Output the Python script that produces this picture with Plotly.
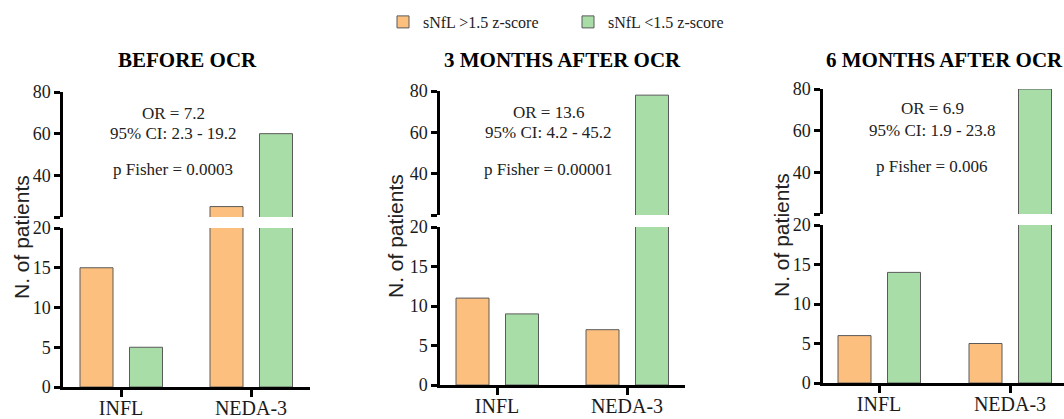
import plotly.graph_objects as go

# ---------------- data ----------------
categories = ["INFL", "NEDA-3"]
panel_titles = ["BEFORE OCR", "3 MONTHS AFTER OCR", "6 MONTHS AFTER OCR"]
series_names = ["sNfL >1.5 z-score", "sNfL <1.5 z-score"]
high_nfl = [[15, 25], [11, 7], [6, 5]]      # sNfL >1.5 z-score
low_nfl = [[5, 60], [9, 78], [14, 80]]      # sNfL <1.5 z-score
stats_or = ["OR = 7.2", "OR = 13.6", "OR = 6.9"]
stats_ci = ["95% CI: 2.3 - 19.2", "95% CI: 4.2 - 45.2", "95% CI: 1.9 - 23.8"]
stats_p = ["p Fisher = 0.0003", "p Fisher = 0.00001", "p Fisher = 0.006"]
lower_ticks = [0, 5, 10, 15, 20]
upper_ticks = [20, 40, 60, 80]
upper_ticktext = ["", "40", "60", "80"]

# ---------------- style / layout ----------------
W, H = 1064, 419
ORANGE = "#FDBF7E"
GREEN = "#A8DDA8"
EDGE = "#5a5a5a"
SERIF = "Liberation Serif"
SANS = "Liberation Sans"

# pixel geometry per panel
geom = [
    dict(x0=63, x1=310, c0=121, c1=251, lo=(387, 228), up=(217, 92), title_x=187, stat_x=173, stat_y=(113, 133, 169), ylab_x=21, ylab_y=237),
    dict(x0=440, x1=685, c0=497, c1=627, lo=(385, 227), up=(215, 91), title_x=562, stat_x=548, stat_y=(112, 132, 169), ylab_x=396, ylab_y=236),
    dict(x0=823, x1=1064, c0=879, c1=1010, lo=(383, 225), up=(214, 89), title_x=944, stat_x=932, stat_y=(109, 130, 167), ylab_x=781, ylab_y=235),
]

def px_x(p):
    return p / W

def px_y(p):
    return (H - p) / H

fig = go.Figure()
annotations = []
axes = {}

axis_line = dict(showline=True, linecolor="black", linewidth=2.5, ticks="outside",
                 tickcolor="black", tickwidth=2.5, showgrid=False, zeroline=False,
                 automargin=False)

def aid(n, letter):
    return letter if n == 1 else f"{letter}{n}"

for i, g in enumerate(geom):
    unit = (g["c1"] - g["c0"])  # px per category
    xr = [(g["x0"] - g["c0"]) / unit, (g["x1"] - g["c0"]) / unit]
    bar_w = 33 / unit
    off_o = -41 / unit
    off_g = 8.5 / unit

    n_lo, n_up = 2 * i + 1, 2 * i + 2
    xa_lo, xa_up = aid(n_lo, "x"), aid(n_up, "x")
    ya_lo, ya_up = aid(n_lo, "y"), aid(n_up, "y")

    for xa, ya in [(xa_lo, ya_lo), (xa_up, ya_up)]:
        fig.add_trace(go.Bar(
            x=categories, y=high_nfl[i], name=series_names[0],
            marker=dict(color=ORANGE, line=dict(color=EDGE, width=1)),
            width=bar_w, offset=off_o, xaxis=xa, yaxis=ya,
            showlegend=(i == 0 and ya == ya_lo), legendgroup="hi"))
        fig.add_trace(go.Bar(
            x=categories, y=low_nfl[i], name=series_names[1],
            marker=dict(color=GREEN, line=dict(color=EDGE, width=1)),
            width=bar_w, offset=off_g, xaxis=xa, yaxis=ya,
            showlegend=(i == 0 and ya == ya_lo), legendgroup="lo"))

    dom_x = [px_x(g["x0"]), min(1.0, px_x(g["x1"]))]
    axes[f"xaxis{n_lo}"] = dict(domain=dom_x, range=xr, anchor=ya_lo, type="category",
                               tickfont=dict(family=SERIF, size=20, color="#1a1a1a"),
                               ticklen=7, ticklabelstandoff=-6, **axis_line)
    axes[f"xaxis{n_up}"] = dict(domain=dom_x, range=xr, anchor=ya_up, type="category",
                               matches=xa_lo, visible=False, automargin=False)
    axes[f"yaxis{n_lo}"] = dict(domain=[px_y(g["lo"][0]), px_y(g["lo"][1])], range=[0, 20],
                               anchor=xa_lo, tickvals=lower_ticks, ticklen=6,
                               tickfont=dict(family=SERIF, size=18, color="#1a1a1a"), **axis_line)
    axes[f"yaxis{n_up}"] = dict(domain=[px_y(g["up"][0]), px_y(g["up"][1])], range=[20, 80],
                               anchor=xa_up, tickvals=upper_ticks, ticktext=upper_ticktext, ticklen=6,
                               tickfont=dict(family=SERIF, size=18, color="#1a1a1a"), **axis_line)

    annotations.append(dict(
        text=f"<b>{panel_titles[i]}</b>", x=px_x(g["title_x"]), y=px_y(60),
        xref="paper", yref="paper", xanchor="center", yanchor="middle", showarrow=False,
        font=dict(family=SERIF, size=21, color="black")))
    for txt, yy in zip([stats_or[i], stats_ci[i], stats_p[i]], g["stat_y"]):
        annotations.append(dict(
            text=txt, x=px_x(g["stat_x"]), y=px_y(yy), xref="paper", yref="paper",
            xanchor="center", yanchor="middle", showarrow=False,
            font=dict(family=SERIF, size=17, color="#222")))
    annotations.append(dict(
        text="N. of patients", x=px_x(g["ylab_x"]), y=px_y(g["ylab_y"]),
        xref="paper", yref="paper", xanchor="center", yanchor="middle", showarrow=False,
        textangle=-90, font=dict(family=SANS, size=21, color="#222")))

axes["xaxis"] = axes.pop("xaxis1")
axes["yaxis"] = axes.pop("yaxis1")

fig.update_layout(
    width=W, height=H,
    margin=dict(l=0, r=0, t=0, b=0, autoexpand=False),
    paper_bgcolor="white", plot_bgcolor="white",
    showlegend=True,
    legend=dict(orientation="h", x=px_x(383), xanchor="left", y=px_y(5), yanchor="top",
                font=dict(family=SERIF, size=16, color="#222"), entrywidth=140,
                bgcolor="rgba(0,0,0,0)"),
    annotations=annotations,
    **axes,
)
fig.write_html("out.html")
